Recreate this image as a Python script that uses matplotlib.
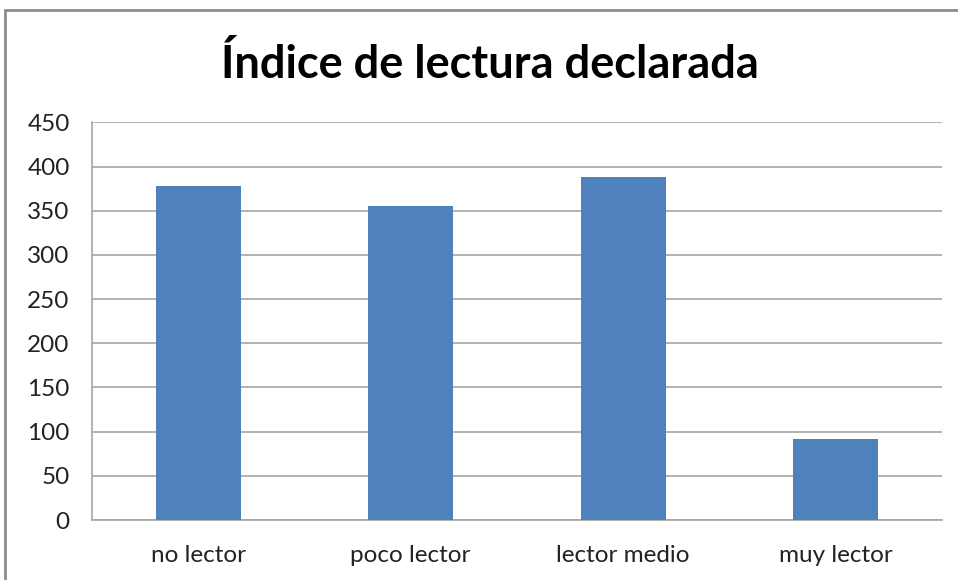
import matplotlib
matplotlib.use('Agg')
import matplotlib.pyplot as plt
from matplotlib.patches import Rectangle

# data
categories = ['no lector', 'poco lector', 'lector medio', 'muy lector']
values = [378, 355, 388, 92]
yticks = [0, 50, 100, 150, 200, 250, 300, 350, 400, 450]

plt.rcParams['font.family'] = ['Lato', 'DejaVu Sans']

fig = plt.figure(figsize=(9.58, 5.8), dpi=100)
ax = fig.add_axes([0.096, 0.1034, 0.887, 0.6857])

x = range(len(categories))
ax.bar(x, values, width=0.4, color='#4f81bd', zorder=3)

ax.set_xlim(-0.5, len(categories) - 0.5)
ax.set_ylim(0, 450)
ax.set_yticks(yticks)
ax.set_xticks(list(x))
ax.set_xticklabels(categories, fontsize=17.5, color='#222222')
ax.tick_params(axis='y', labelsize=17.5, labelcolor='#222222', length=0, pad=16)
ax.tick_params(axis='x', length=0, pad=18)

ax.yaxis.grid(True, color='#a6a6a6', linewidth=1.2, zorder=0)
for s in ['top', 'right']:
    ax.spines[s].set_visible(False)
ax.spines['left'].set_color('#a6a6a6')
ax.spines['bottom'].set_color('#a6a6a6')
ax.spines['left'].set_linewidth(1.2)
ax.spines['bottom'].set_linewidth(1.2)

fig.text(0.511, 0.888, 'Índice de lectura declarada', ha='center', va='center',
         fontsize=32.5, fontweight='bold')

# outer chart border
fig.patches.append(Rectangle((5 / 958, -0.05), 1.0, 1 - 10 / 580 + 0.05,
                             transform=fig.transFigure, fill=False,
                             edgecolor='#8c8c8c', linewidth=2))

fig.savefig('out.png', dpi=100)
